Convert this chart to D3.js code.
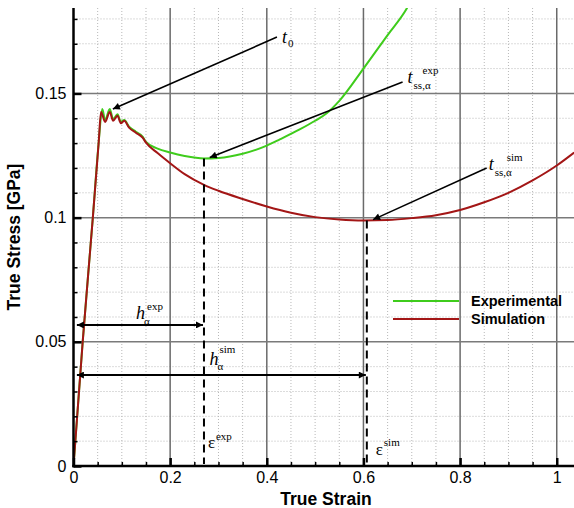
<!DOCTYPE html>
<html>
<head>
<meta charset="utf-8">
<script src="https://cdn.jsdelivr.net/npm/d3@7"></script>
<style>
  html, body { margin: 0; padding: 0; background: #fff; }
  svg { display: block; }
  .tick text { font-family: "Liberation Sans", Arial, sans-serif; font-size: 16px; fill: #000; }
  .serif { font-family: "Liberation Serif", "Times New Roman", serif; fill: #000; }
</style>
</head>
<body>
<svg id="chart" width="574" height="508"></svg>
<script>
// Strain / stress series
const simStrain = [0, 0.019, 0.040, 0.052, 0.057, 0.0655, 0.075, 0.082, 0.091, 0.098, 0.105, 0.115, 0.129, 0.143, 0.150,
  0.174, 0.20, 0.23, 0.27, 0.30, 0.35, 0.40, 0.45, 0.50, 0.55, 0.60, 0.65, 0.70, 0.75, 0.80, 0.85, 0.90, 0.95, 1.00, 1.036];
const simStress = [0, 0.050, 0.100, 0.130, 0.1425, 0.1385, 0.1425, 0.1390, 0.1410, 0.1380, 0.1390, 0.1362, 0.1342, 0.1322, 0.1302,
  0.1260, 0.1219, 0.1175, 0.1132, 0.1108, 0.1075, 0.1045, 0.1020, 0.1002, 0.0992, 0.0988, 0.0990, 0.0998, 0.1010, 0.1031, 0.1062, 0.1100, 0.1150, 0.1210, 0.1262];

const expStrain = [0, 0.019, 0.040, 0.052, 0.0595, 0.0655, 0.075, 0.082, 0.091, 0.098, 0.105, 0.115, 0.129, 0.143, 0.150,
  0.174, 0.20, 0.23, 0.27, 0.30, 0.35, 0.40, 0.427, 0.468, 0.50, 0.524, 0.55, 0.60, 0.65, 0.689, 0.72];
const expStress = [0, 0.050, 0.100, 0.130, 0.1437, 0.1393, 0.1437, 0.1397, 0.1416, 0.1386, 0.1393, 0.1366, 0.1346, 0.1326, 0.1305,
  0.1278, 0.1262, 0.1248, 0.1238, 0.1240, 0.1257, 0.1290, 0.1315, 0.1355, 0.1390, 0.1420, 0.1470, 0.1600, 0.1735, 0.1840, 0.1960];

// Axis ticks
const xTickValues = [0, 0.2, 0.4, 0.6, 0.8, 1];
const xTickLabels = ["0", "0.2", "0.4", "0.6", "0.8", "1"];
const yTickValues = [0, 0.05, 0.1, 0.15];
const yTickLabels = ["0", "0.05", "0.1", "0.15"];

// Steady-state strains
const epsExp = 0.27;
const epsSim = 0.607;

// Legend entries
const legendNames = ["Experimental", "Simulation"];
const legendColors = ["#3fcc1c", "#a31616"];

const svg = d3.select("#chart");
const plotLeft = 73.5, plotRight = 574, plotTop = 8, plotBottom = 466;

const x = d3.scaleLinear().domain([0, 1.0357]).range([plotLeft, plotRight]);
const y = d3.scaleLinear().domain([0, 0.1844]).range([plotBottom, plotTop]);

// Grid: dotted minor lines, solid major lines
const minorX = d3.range(1, 21).map(i => i * 0.05).filter(v => Math.abs(v / 0.2 - Math.round(v / 0.2)) > 1e-6);
const minorY = d3.range(1, 19).map(i => i * 0.01).filter(v => Math.abs(v / 0.05 - Math.round(v / 0.05)) > 1e-6);
const majorX = [0.2, 0.4, 0.6, 0.8, 1.0];
const majorY = [0.05, 0.1, 0.15];

const grid = svg.append("g");
grid.selectAll(".mx").data(minorX).join("line")
  .attr("x1", d => x(d)).attr("x2", d => x(d)).attr("y1", plotTop).attr("y2", plotBottom)
  .attr("stroke", "#b8b8b8").attr("stroke-width", 1).attr("stroke-dasharray", "1,2");
grid.selectAll(".my").data(minorY).join("line")
  .attr("x1", plotLeft).attr("x2", plotRight).attr("y1", d => y(d)).attr("y2", d => y(d))
  .attr("stroke", "#b8b8b8").attr("stroke-width", 1).attr("stroke-dasharray", "1,2");
grid.selectAll(".Mx").data(majorX).join("line")
  .attr("x1", d => x(d)).attr("x2", d => x(d)).attr("y1", plotTop).attr("y2", plotBottom)
  .attr("stroke", "#6a6a6a").attr("stroke-width", 1.5);
grid.selectAll(".My").data(majorY).join("line")
  .attr("x1", plotLeft).attr("x2", plotRight).attr("y1", d => y(d)).attr("y2", d => y(d))
  .attr("stroke", "#7a7a7a").attr("stroke-width", 1.5);

// Curves, clipped to the plot area
svg.append("clipPath").attr("id", "plotClip").append("rect")
  .attr("x", plotLeft).attr("y", plotTop).attr("width", plotRight - plotLeft).attr("height", plotBottom - plotTop);

const line = d3.line().x(d => x(d[0])).y(d => y(d[1])).curve(d3.curveMonotoneX);
const curves = svg.append("g").attr("clip-path", "url(#plotClip)");
curves.append("path").datum(d3.zip(expStrain, expStress)).attr("d", line)
  .attr("fill", "none").attr("stroke", legendColors[0]).attr("stroke-width", 2);
curves.append("path").datum(d3.zip(simStrain, simStress)).attr("d", line)
  .attr("fill", "none").attr("stroke", legendColors[1]).attr("stroke-width", 2);

// Axes: ticks pointing inward
const yMinorAxis = d3.axisLeft(y).tickValues(minorY).tickSize(-4).tickFormat("");
const xMinorAxis = d3.axisBottom(x).tickValues(minorX).tickSize(-4).tickFormat("");
svg.append("g").attr("transform", `translate(${plotLeft},0)`).call(yMinorAxis)
  .call(g => g.select(".domain").remove())
  .call(g => g.selectAll("line").attr("stroke", "#000").attr("stroke-width", 1.5));
svg.append("g").attr("transform", `translate(0,${plotBottom})`).call(xMinorAxis)
  .call(g => g.select(".domain").remove())
  .call(g => g.selectAll("line").attr("stroke", "#000").attr("stroke-width", 1.5));

const yAxis = d3.axisLeft(y).tickValues(yTickValues).tickSize(-8).tickPadding(7)
  .tickFormat((d, i) => yTickLabels[i]);
const xAxis = d3.axisBottom(x).tickValues(xTickValues).tickSize(-8).tickPadding(6)
  .tickFormat((d, i) => xTickLabels[i]);
svg.append("g").attr("transform", `translate(${plotLeft},0)`).call(yAxis)
  .call(g => g.select(".domain").remove())
  .call(g => g.selectAll("line").attr("stroke", "#000").attr("stroke-width", 2.5));
svg.append("g").attr("transform", `translate(0,${plotBottom})`).call(xAxis)
  .call(g => g.select(".domain").remove())
  .call(g => g.selectAll("line").attr("stroke", "#000").attr("stroke-width", 2.5));

svg.append("line").attr("x1", plotLeft).attr("x2", plotLeft).attr("y1", plotTop).attr("y2", plotBottom + 1.2)
  .attr("stroke", "#000").attr("stroke-width", 2.5);
svg.append("line").attr("x1", plotLeft - 1.2).attr("x2", plotRight).attr("y1", plotBottom).attr("y2", plotBottom)
  .attr("stroke", "#000").attr("stroke-width", 2.5);

// Axis titles
svg.append("text").attr("x", 326).attr("y", 505).attr("text-anchor", "middle")
  .attr("font-family", "Liberation Sans, Arial, sans-serif").attr("font-weight", "bold").attr("font-size", 17.5)
  .text("True Strain");
svg.append("text").attr("transform", "translate(20,237) rotate(-90)").attr("text-anchor", "middle")
  .attr("font-family", "Liberation Sans, Arial, sans-serif").attr("font-weight", "bold").attr("font-size", 17.5)
  .text("True Stress [GPa]");

// Arrow markers
const defs = svg.append("defs");
defs.append("marker").attr("id", "head").attr("viewBox", "0 0 10 10").attr("refX", 10).attr("refY", 5)
  .attr("markerWidth", 10).attr("markerHeight", 7).attr("markerUnits", "userSpaceOnUse").attr("orient", "auto-start-reverse")
  .append("path").attr("d", "M0,0 L10,5 L0,10 z").attr("fill", "#000");

// Steady-state dashed markers
const dashes = [[epsExp, 0.1238], [epsSim, 0.0988]];
svg.selectAll(".dash").data(dashes).join("line")
  .attr("x1", d => x(d[0])).attr("x2", d => x(d[0])).attr("y1", d => y(d[1])).attr("y2", plotBottom - 2)
  .attr("stroke", "#000").attr("stroke-width", 2).attr("stroke-dasharray", "8,5");

// Callout arrows: [tail strain, tail stress, head strain, head stress]
const callouts = [
  [0.421, 0.1727, 0.0815, 0.1437],
  [0.681, 0.1546, 0.282, 0.1242],
  [0.855, 0.1200, 0.620, 0.0992]
];
svg.selectAll(".callout").data(callouts).join("line")
  .attr("x1", d => x(d[0])).attr("y1", d => y(d[1])).attr("x2", d => x(d[2])).attr("y2", d => y(d[3]))
  .attr("stroke", "#000").attr("stroke-width", 1.6).attr("marker-end", "url(#head)");

// Hardening-range double arrows: [stress level, end strain]
const spans = [[0.0568, epsExp], [0.0366, epsSim]];
svg.selectAll(".span").data(spans).join("line")
  .attr("x1", x(0.007)).attr("x2", d => x(d[1]) - 1).attr("y1", d => y(d[0])).attr("y2", d => y(d[0]))
  .attr("stroke", "#000").attr("stroke-width", 2)
  .attr("marker-start", "url(#head)").attr("marker-end", "url(#head)");

// Symbol labels (main glyph, subscript, superscript)
function symbol(px, py, main, sub, sup, opts) {
  const g = svg.append("g").attr("class", "serif");
  g.append("text").attr("x", px).attr("y", py).attr("font-size", opts.size)
    .attr("font-style", opts.italic ? "italic" : "normal").text(main);
  if (sub) g.append("text").attr("x", px + opts.subDx).attr("y", py + opts.subDy).attr("font-size", 11).text(sub);
  if (sup) g.append("text").attr("x", px + opts.supDx).attr("y", py + opts.supDy).attr("font-size", 11).text(sup);
}
symbol(x(0.421) + 5, y(0.1727) + 6, "t", "0", null, { size: 18, italic: true, subDx: 6, subDy: 4 });
symbol(x(0.681) + 5, y(0.1546) + 1, "t", "ss,α", "exp", { size: 18, italic: true, subDx: 6, subDy: 6, supDx: 15, supDy: -9 });
symbol(x(0.855) + 2, y(0.1200) + 2, "t", "ss,α", "sim", { size: 18, italic: true, subDx: 6, subDy: 6, supDx: 18, supDy: -9 });
symbol(136, y(0.0568) - 6, "h", "α", "exp", { size: 18, italic: true, subDx: 8, subDy: 6, supDx: 11, supDy: -9 });
symbol(209.5, y(0.0366) - 10, "h", "α", "sim", { size: 18, italic: true, subDx: 8, subDy: 5, supDx: 10, supDy: -12 });
symbol(x(epsExp) + 4, 448, "ε", null, "exp", { size: 17, italic: false, supDx: 8, supDy: -8 });
symbol(x(epsSim) + 9, 455, "ε", null, "sim", { size: 17, italic: false, supDx: 8, supDy: -9 });

// Legend
const legend = svg.append("g").attr("transform", "translate(393,301)");
legend.selectAll("line").data(legendNames).join("line")
  .attr("x1", 0).attr("x2", 66).attr("y1", (d, i) => i * 18).attr("y2", (d, i) => i * 18)
  .attr("stroke", (d, i) => legendColors[i]).attr("stroke-width", 2);
legend.selectAll("text").data(legendNames).join("text")
  .attr("x", 78).attr("y", (d, i) => i * 18 + 5)
  .attr("font-family", "Liberation Sans, Arial, sans-serif").attr("font-weight", "bold").attr("font-size", 14.5)
  .text(d => d);
</script>
</body>
</html>
